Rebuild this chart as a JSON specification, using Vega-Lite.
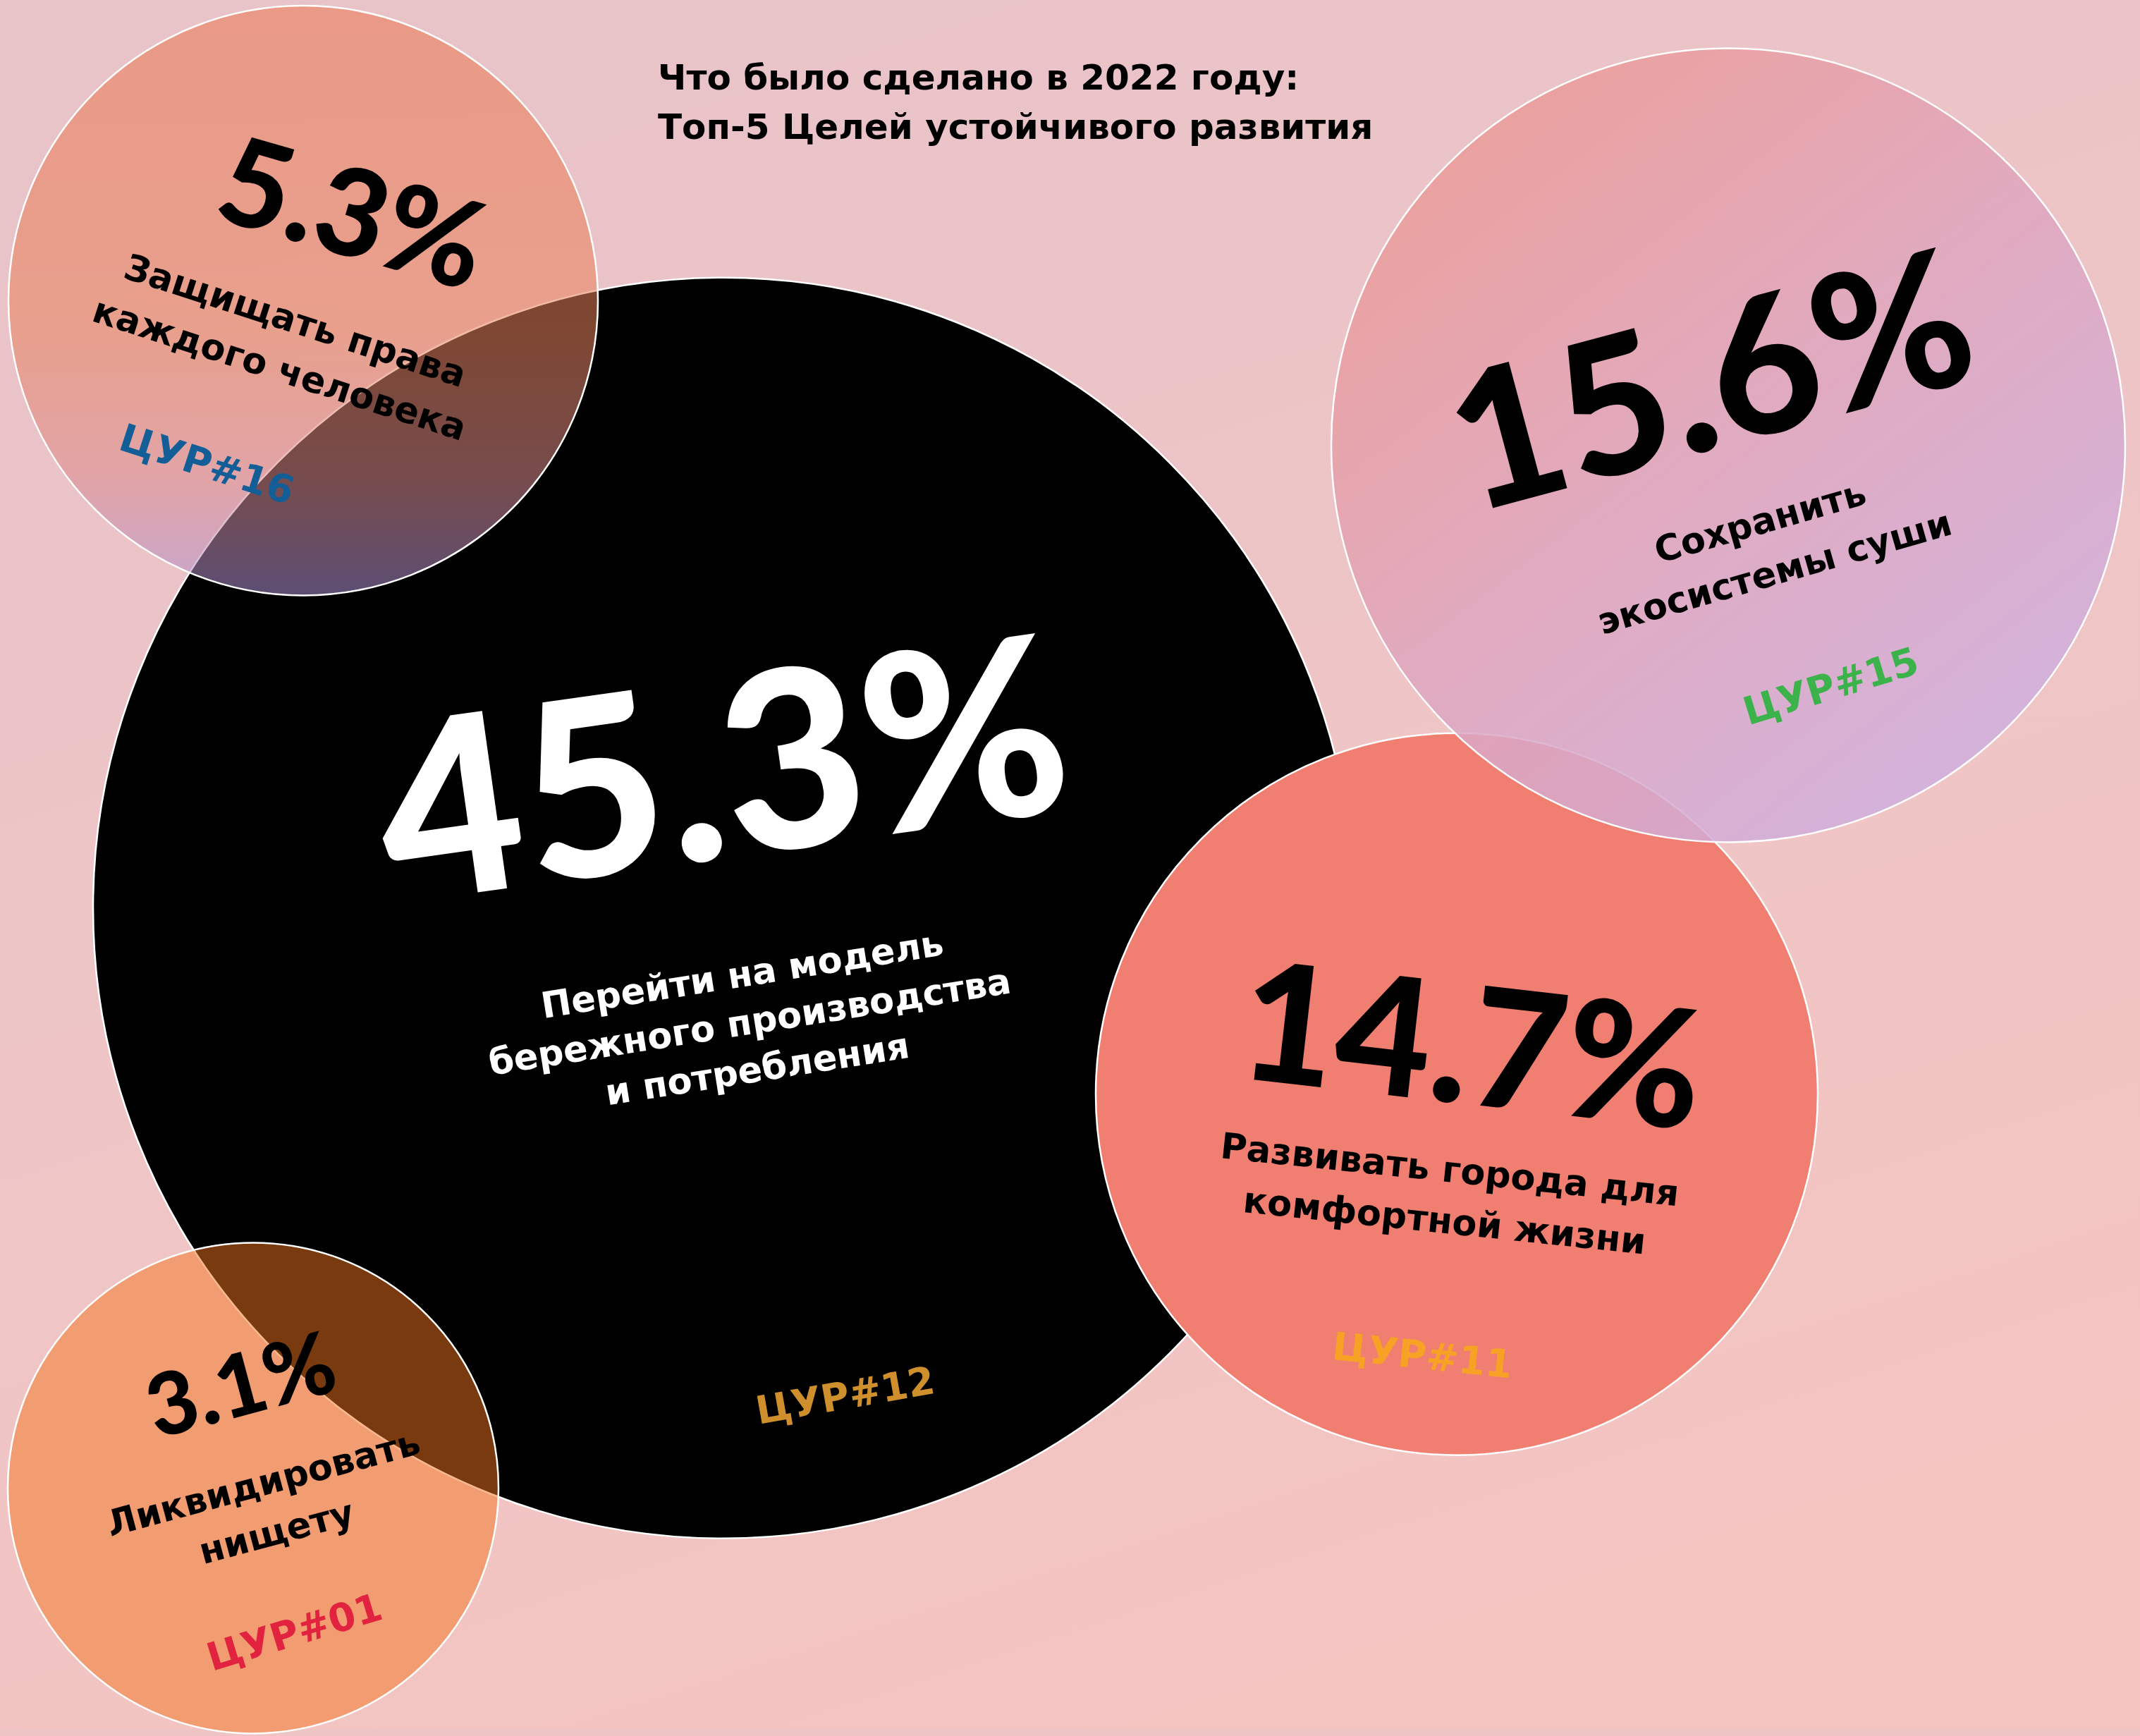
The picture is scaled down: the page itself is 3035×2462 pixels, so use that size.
{
  "$schema": "https://vega.github.io/schema/vega-lite/v6.json",
  "width": 3035,
  "height": 2462,
  "autosize": {"type": "fit", "contains": "padding"},
  "padding": 0,
  "background": "#EEC4C4",
  "config": {
    "view": {
      "stroke": null,
      "fill": {
        "gradient": "linear",
        "x1": 0.3, "y1": 0, "x2": 0.7, "y2": 1,
        "stops": [
          {"offset": 0, "color": "#E8C3C8"},
          {"offset": 0.5, "color": "#EFC5C6"},
          {"offset": 1, "color": "#F4C4C0"}
        ]
      }
    }
  },
  "datasets": {
    "goals": [
      {"sdg": "ЦУР#12", "share": 45.3, "label": "45.3%", "title": ["Перейти на модель", "бережного производства", "и потребления"], "cx": 1026, "cy": 1293, "px": 1027, "py": 1115, "tx": 1053, "ty": 1390, "sx": 1199, "sy": 1989},
      {"sdg": "ЦУР#16", "share": 5.3, "label": "5.3%", "title": ["Защищать права", "каждого человека"], "cx": 430, "cy": 428, "px": 498, "py": 312, "tx": 418, "ty": 459, "sx": 293, "sy": 663},
      {"sdg": "ЦУР#15", "share": 15.6, "label": "15.6%", "title": ["Сохранить", "экосистемы суши"], "cx": 2451, "cy": 634, "px": 2430, "py": 556, "tx": 2497, "ty": 745, "sx": 2597, "sy": 979},
      {"sdg": "ЦУР#11", "share": 14.7, "label": "14.7%", "title": ["Развивать города для", "комфортной жизни"], "cx": 2066, "cy": 1558, "px": 2086, "py": 1502, "tx": 2056, "ty": 1668, "sx": 2017, "sy": 1932},
      {"sdg": "ЦУР#01", "share": 3.1, "label": "3.1%", "title": ["Ликвидировать", "нищету"], "cx": 359, "cy": 2119, "px": 343, "py": 1978, "tx": 374, "ty": 2114, "sx": 418, "sy": 2326}
    ],
    "heading": [
      {"text": ["Что было сделано в 2022 году:", "Топ-5 Целей устойчивого развития"], "hx": 933, "hy": 128}
    ]
  },
  "data": {"name": "goals"},
  "layer": [
    {
      "transform": [{"filter": "datum.sdg === 'ЦУР#12'"}],
      "mark": {"type": "circle", "fill": "#000000", "fillOpacity": 1, "stroke": "#FFFFFF", "strokeWidth": 2.5},
      "encoding": {
        "x": {"field": "cx", "type": "quantitative", "scale": {"domain": [0, 3035], "nice": false, "zero": false}, "axis": null},
        "y": {"field": "cy", "type": "quantitative", "scale": {"domain": [0, 2462], "nice": false, "zero": false, "reverse": true}, "axis": null},
        "size": {"field": "share", "type": "quantitative", "scale": {"domain": [3.1, 5.3, 14.7, 15.6, 45.3], "range": [484416, 698896, 1048576, 1267876, 3196944]}, "legend": null}
      }
    },
    {
      "transform": [{"filter": "datum.sdg === 'ЦУР#11'"}],
      "mark": {"type": "circle", "fill": "#F07F72", "fillOpacity": 1, "stroke": "#FFFFFF", "strokeWidth": 2.5},
      "encoding": {
        "x": {"field": "cx", "type": "quantitative", "axis": null},
        "y": {"field": "cy", "type": "quantitative", "axis": null},
        "size": {"field": "share", "type": "quantitative", "legend": null}
      }
    },
    {
      "transform": [{"filter": "datum.sdg === 'ЦУР#15'"}],
      "mark": {
        "type": "circle",
        "fill": {
          "gradient": "linear", "x1": 0.15, "y1": 0.05, "x2": 0.85, "y2": 0.95,
          "stops": [
            {"offset": 0, "color": "#EC9A94"},
            {"offset": 0.5, "color": "#DEA6BF"},
            {"offset": 1, "color": "#CDB0E2"}
          ]
        },
        "fillOpacity": 0.85, "stroke": "#FFFFFF", "strokeWidth": 2.5
      },
      "encoding": {
        "x": {"field": "cx", "type": "quantitative", "axis": null},
        "y": {"field": "cy", "type": "quantitative", "axis": null},
        "size": {"field": "share", "type": "quantitative", "legend": null}
      }
    },
    {
      "transform": [{"filter": "datum.sdg === 'ЦУР#16'"}],
      "mark": {
        "type": "circle",
        "fill": {
          "gradient": "linear", "x1": 0, "y1": 0, "x2": 0, "y2": 1,
          "stops": [
            {"offset": 0, "color": "#EB7850"},
            {"offset": 0.55, "color": "#E7825C"},
            {"offset": 0.8, "color": "#DA8A8C"},
            {"offset": 1, "color": "#A98ED2"}
          ]
        },
        "fillOpacity": 0.55, "stroke": "#FFFFFF", "strokeWidth": 2.5
      },
      "encoding": {
        "x": {"field": "cx", "type": "quantitative", "axis": null},
        "y": {"field": "cy", "type": "quantitative", "axis": null},
        "size": {"field": "share", "type": "quantitative", "legend": null}
      }
    },
    {
      "transform": [{"filter": "datum.sdg === 'ЦУР#01'"}],
      "mark": {"type": "circle", "fill": "#F47420", "fillOpacity": 0.5, "stroke": "#FFFFFF", "strokeWidth": 2.5},
      "encoding": {
        "x": {"field": "cx", "type": "quantitative", "axis": null},
        "y": {"field": "cy", "type": "quantitative", "axis": null},
        "size": {"field": "share", "type": "quantitative", "legend": null}
      }
    },
    {
      "transform": [{"filter": "datum.sdg === 'ЦУР#12'"}],
      "layer": [
        {"mark": {"type": "text", "font": "Lato", "fontWeight": 900, "fontSize": 350, "angle": 352, "align": "center", "baseline": "middle", "color": "#FFFFFF"},
         "encoding": {"x": {"field": "px", "type": "quantitative", "axis": null}, "y": {"field": "py", "type": "quantitative", "axis": null}, "text": {"field": "label"}}},
        {"mark": {"type": "text", "font": "DejaVu Sans", "fontWeight": "bold", "fontSize": 51, "lineHeight": 68, "angle": 351, "align": "center", "baseline": "middle", "color": "#FFFFFF"},
         "encoding": {"x": {"field": "tx", "type": "quantitative", "axis": null}, "y": {"field": "ty", "type": "quantitative", "axis": null}, "text": {"field": "title"}}},
        {"mark": {"type": "text", "font": "DejaVu Sans", "fontWeight": "bold", "fontSize": 55, "angle": 350, "align": "center", "baseline": "middle", "color": "#CE8F2C"},
         "encoding": {"x": {"field": "sx", "type": "quantitative", "axis": null}, "y": {"field": "sy", "type": "quantitative", "axis": null}, "text": {"field": "sdg"}}}
      ]
    },
    {
      "transform": [{"filter": "datum.sdg === 'ЦУР#16'"}],
      "layer": [
        {"mark": {"type": "text", "font": "Lato", "fontWeight": 900, "fontSize": 172, "angle": 16, "align": "center", "baseline": "middle", "color": "#000000"},
         "encoding": {"x": {"field": "px", "type": "quantitative", "axis": null}, "y": {"field": "py", "type": "quantitative", "axis": null}, "text": {"field": "label"}}},
        {"mark": {"type": "text", "font": "DejaVu Sans", "fontWeight": "bold", "fontSize": 51, "lineHeight": 72, "angle": 18, "align": "center", "baseline": "middle", "color": "#000000"},
         "encoding": {"x": {"field": "tx", "type": "quantitative", "axis": null}, "y": {"field": "ty", "type": "quantitative", "axis": null}, "text": {"field": "title"}}},
        {"mark": {"type": "text", "font": "DejaVu Sans", "fontWeight": "bold", "fontSize": 55, "angle": 18, "align": "center", "baseline": "middle", "color": "#145E98"},
         "encoding": {"x": {"field": "sx", "type": "quantitative", "axis": null}, "y": {"field": "sy", "type": "quantitative", "axis": null}, "text": {"field": "sdg"}}}
      ]
    },
    {
      "transform": [{"filter": "datum.sdg === 'ЦУР#15'"}],
      "layer": [
        {"mark": {"type": "text", "font": "Lato", "fontWeight": 900, "fontSize": 268, "angle": 345, "align": "center", "baseline": "middle", "color": "#000000"},
         "encoding": {"x": {"field": "px", "type": "quantitative", "axis": null}, "y": {"field": "py", "type": "quantitative", "axis": null}, "text": {"field": "label"}}},
        {"mark": {"type": "text", "font": "DejaVu Sans", "fontWeight": "bold", "fontSize": 51, "lineHeight": 75, "angle": 344, "align": "center", "baseline": "middle", "color": "#000000"},
         "encoding": {"x": {"field": "tx", "type": "quantitative", "axis": null}, "y": {"field": "ty", "type": "quantitative", "axis": null}, "text": {"field": "title"}}},
        {"mark": {"type": "text", "font": "DejaVu Sans", "fontWeight": "bold", "fontSize": 55, "angle": 343, "align": "center", "baseline": "middle", "color": "#3CB24A"},
         "encoding": {"x": {"field": "sx", "type": "quantitative", "axis": null}, "y": {"field": "sy", "type": "quantitative", "axis": null}, "text": {"field": "sdg"}}}
      ]
    },
    {
      "transform": [{"filter": "datum.sdg === 'ЦУР#11'"}],
      "layer": [
        {"mark": {"type": "text", "font": "Lato", "fontWeight": 900, "fontSize": 234, "angle": 6.5, "align": "center", "baseline": "middle", "color": "#000000"},
         "encoding": {"x": {"field": "px", "type": "quantitative", "axis": null}, "y": {"field": "py", "type": "quantitative", "axis": null}, "text": {"field": "label"}}},
        {"mark": {"type": "text", "font": "DejaVu Sans", "fontWeight": "bold", "fontSize": 51, "lineHeight": 73, "angle": 6, "align": "center", "baseline": "middle", "color": "#000000"},
         "encoding": {"x": {"field": "tx", "type": "quantitative", "axis": null}, "y": {"field": "ty", "type": "quantitative", "axis": null}, "text": {"field": "title"}}},
        {"mark": {"type": "text", "font": "DejaVu Sans", "fontWeight": "bold", "fontSize": 55, "angle": 6, "align": "center", "baseline": "middle", "color": "#F7A125"},
         "encoding": {"x": {"field": "sx", "type": "quantitative", "axis": null}, "y": {"field": "sy", "type": "quantitative", "axis": null}, "text": {"field": "sdg"}}}
      ]
    },
    {
      "transform": [{"filter": "datum.sdg === 'ЦУР#01'"}],
      "layer": [
        {"mark": {"type": "text", "font": "Lato", "fontWeight": 900, "fontSize": 122, "angle": 345, "align": "center", "baseline": "middle", "color": "#000000"},
         "encoding": {"x": {"field": "px", "type": "quantitative", "axis": null}, "y": {"field": "py", "type": "quantitative", "axis": null}, "text": {"field": "label"}}},
        {"mark": {"type": "text", "font": "DejaVu Sans", "fontWeight": "bold", "fontSize": 51, "lineHeight": 72, "angle": 345, "align": "center", "baseline": "middle", "color": "#000000"},
         "encoding": {"x": {"field": "tx", "type": "quantitative", "axis": null}, "y": {"field": "ty", "type": "quantitative", "axis": null}, "text": {"field": "title"}}},
        {"mark": {"type": "text", "font": "DejaVu Sans", "fontWeight": "bold", "fontSize": 55, "angle": 343, "align": "center", "baseline": "middle", "color": "#E2233F"},
         "encoding": {"x": {"field": "sx", "type": "quantitative", "axis": null}, "y": {"field": "sy", "type": "quantitative", "axis": null}, "text": {"field": "sdg"}}}
      ]
    },
    {
      "data": {"name": "heading"},
      "mark": {"type": "text", "font": "DejaVu Sans", "fontWeight": "bold", "fontSize": 50, "lineHeight": 70, "align": "left", "baseline": "alphabetic", "color": "#000000"},
      "encoding": {
        "x": {"field": "hx", "type": "quantitative", "axis": null},
        "y": {"field": "hy", "type": "quantitative", "axis": null},
        "text": {"field": "text"}
      }
    }
  ]
}
